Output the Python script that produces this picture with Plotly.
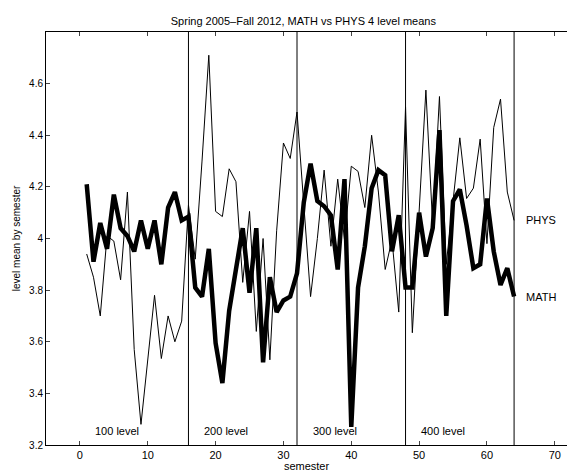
import plotly.graph_objects as go

semesters = list(range(1, 65))

math_means = [
    4.21, 3.91, 4.06, 3.96, 4.17, 4.04, 4.01, 3.95, 4.07, 3.96,
    4.07, 3.90, 4.12, 4.18, 4.07, 4.085, 3.81, 3.775, 3.96, 3.595,
    3.44, 3.72, 3.88, 4.04, 3.79, 4.04, 3.52, 3.85, 3.715, 3.76,
    3.775, 3.865, 4.14, 4.29, 4.145, 4.125, 4.09, 3.88, 4.23, 3.27,
    3.81, 3.97, 4.195, 4.265, 4.245, 3.95, 4.09, 3.81, 3.81, 4.10,
    3.93, 4.04, 4.42, 3.70, 4.145, 4.19, 4.05, 3.885, 3.90, 4.155,
    3.95, 3.82, 3.885, 3.775,
]

phys_means = [
    3.94, 3.85, 3.70, 4.01, 3.99, 3.84, 4.18, 3.57, 3.28, 3.53,
    3.78, 3.535, 3.70, 3.60, 3.68, 4.13, 3.92, 4.30, 4.71, 4.105,
    4.085, 4.27, 4.22, 3.83, 4.105, 3.64, 4.00, 3.53, 4.03, 4.37,
    4.31, 4.49, 4.12, 3.775, 4.00, 4.265, 3.97, 4.23, 3.995, 4.28,
    4.26, 4.12, 4.40, 4.18, 3.88, 3.995, 3.715, 4.51, 3.635, 4.10,
    4.575, 4.05, 4.55, 3.90, 4.15, 4.39, 4.155, 4.195, 4.385, 3.98,
    4.43, 4.54, 4.18, 4.07,
]

level_bounds = [16, 32, 48, 64]
level_labels = ["100 level", "200 level", "300 level", "400 level"]
level_label_x = [2, 18, 34, 50]

x_ticks = [0, 10, 20, 30, 40, 50, 60, 70]
y_ticks = [3.2, 3.4, 3.6, 3.8, 4.0, 4.2, 4.4, 4.6]
y_tick_text = ["3.2", "3.4", "3.6", "3.8", "4", "4.2", "4.4", "4.6"]

FONT = "Liberation Sans, Arial, Helvetica, sans-serif"

fig = go.Figure()
fig.add_trace(go.Scatter(x=semesters, y=phys_means, mode="lines",
                         line=dict(color="black", width=1), name="PHYS",
                         showlegend=False))
fig.add_trace(go.Scatter(x=semesters, y=math_means, mode="lines",
                         line=dict(color="black", width=4.5), name="MATH",
                         showlegend=False))

for b in level_bounds:
    fig.add_shape(type="line", x0=b, x1=b, y0=3.2, y1=4.8, xref="x", yref="y",
                  line=dict(color="black", width=1))

for lab, lx in zip(level_labels, level_label_x):
    fig.add_annotation(x=lx, y=3.255, text=lab, showarrow=False,
                       xanchor="left", yanchor="middle",
                       font=dict(family=FONT, size=11, color="black"))

fig.add_annotation(x=65.5, y=phys_means[-1], text="PHYS", showarrow=False,
                   xanchor="left", yanchor="middle",
                   font=dict(family=FONT, size=11, color="black"))
fig.add_annotation(x=65.5, y=math_means[-1], text="MATH", showarrow=False,
                   xanchor="left", yanchor="middle",
                   font=dict(family=FONT, size=11, color="black"))

fig.update_layout(
    width=567, height=472,
    margin=dict(l=46, r=0, t=32, b=27),
    paper_bgcolor="white", plot_bgcolor="white",
    font=dict(family=FONT, size=11, color="black"),
    title=dict(text="Spring 2005\u2013Fall 2012, MATH vs PHYS 4 level means",
               x=0.535, xanchor="center", y=0.955, yanchor="middle",
               font=dict(family=FONT, size=11, color="black")),
)
fig.update_xaxes(range=[-5, 71.8], tickvals=x_ticks, ticks="inside", ticklen=4,
                 showgrid=False, zeroline=False, showline=True, automargin=False,
                 linecolor="black", linewidth=1, mirror="ticks",
                 title=dict(text="semester", standoff=2,
                            font=dict(family=FONT, size=11)),
                 tickfont=dict(family=FONT, size=11))
fig.update_yaxes(range=[3.2, 4.8], tickvals=y_ticks, ticktext=y_tick_text,
                 ticks="inside", ticklen=4, showgrid=False, zeroline=False,
                 automargin=False,
                 showline=True, linecolor="black", linewidth=1, mirror=False,
                 title=dict(text="level mean by semester", standoff=6,
                            font=dict(family=FONT, size=10)),
                 tickfont=dict(family=FONT, size=10))

fig.write_html("out.html", config={"displayModeBar": False},
               post_script="document.body.style.margin='0';")
